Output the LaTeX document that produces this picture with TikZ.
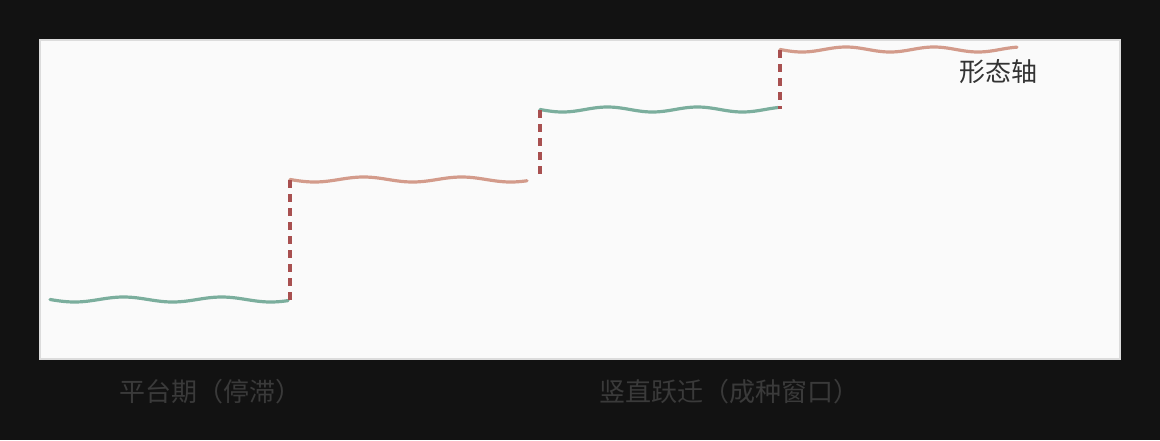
\documentclass[tikz,border=0pt]{standalone}
\usepackage{fontspec}
\setmainfont{Noto Sans CJK SC}
\usepackage{tikz}
\usetikzlibrary{positioning}

\definecolor{pagebg}{HTML}{121212}
\definecolor{panelbg}{HTML}{FAFAFA}
\definecolor{panelrim}{HTML}{DCDCDC}
\definecolor{stasisgreen}{HTML}{7BAE9D}
\definecolor{burstpink}{HTML}{D39B8B}
\definecolor{jumpred}{HTML}{A85050}
\definecolor{darklabel}{HTML}{3A3A3A}
\definecolor{axislabel}{HTML}{333333}

\tikzset{
  wave/.style={line width=3.2pt, line cap=round},
  jumpline/.style={jumpred, line width=3.5pt, dash pattern=on 8pt off 6pt},
  caption/.style={font=\fontsize{26}{30}\selectfont, text=darklabel, inner sep=0pt}
}

\begin{document}
\begin{tikzpicture}[x=1pt, y=-1pt]

\fill[pagebg] (0,0) rectangle (1160,440);
\useasboundingbox (0,0) rectangle (1160,440);
\draw[panelrim, line width=2pt, fill=panelbg] (40,40) rectangle (1120,359);

% plateaus
\draw[wave, stasisgreen] plot [domain=50:288, samples=80] (\x, {299.5+2.5*sin(3.67*(\x-50))});
\draw[wave, burstpink] plot [domain=290:527, samples=80] (\x, {179.5+2.5*sin(3.67*(\x-290))});
\draw[wave, stasisgreen] plot [domain=540:778, samples=80] (\x, {109.5+2.5*sin(4*(\x-540))});
\draw[wave, burstpink] plot [domain=780:1017, samples=80] (\x, {49.5+2.5*sin(4.09*(\x-780))});

% jumps
\coordinate (step2top) at (290,180);
\coordinate (step1foot) at (290,300);
\coordinate (step3top) at (540,110);
\coordinate (step2foot) at (540,174);
\coordinate (step4top) at (780,50);
\coordinate (step3foot) at (780,109);
\draw[jumpline] (step2top) -- (step1foot);
\draw[jumpline] (step3top) -- (step2foot);
\draw[jumpline] (step4top) -- (step3foot);

\node[caption, text=axislabel] at (998,72) (axis) {形态轴};
\node[caption] at (210,392) (plateau) {平台期（停滞）};
\node[caption] at (729,392) (burst) {竖直跃迁（成种窗口）};
\end{tikzpicture}
\end{document}
